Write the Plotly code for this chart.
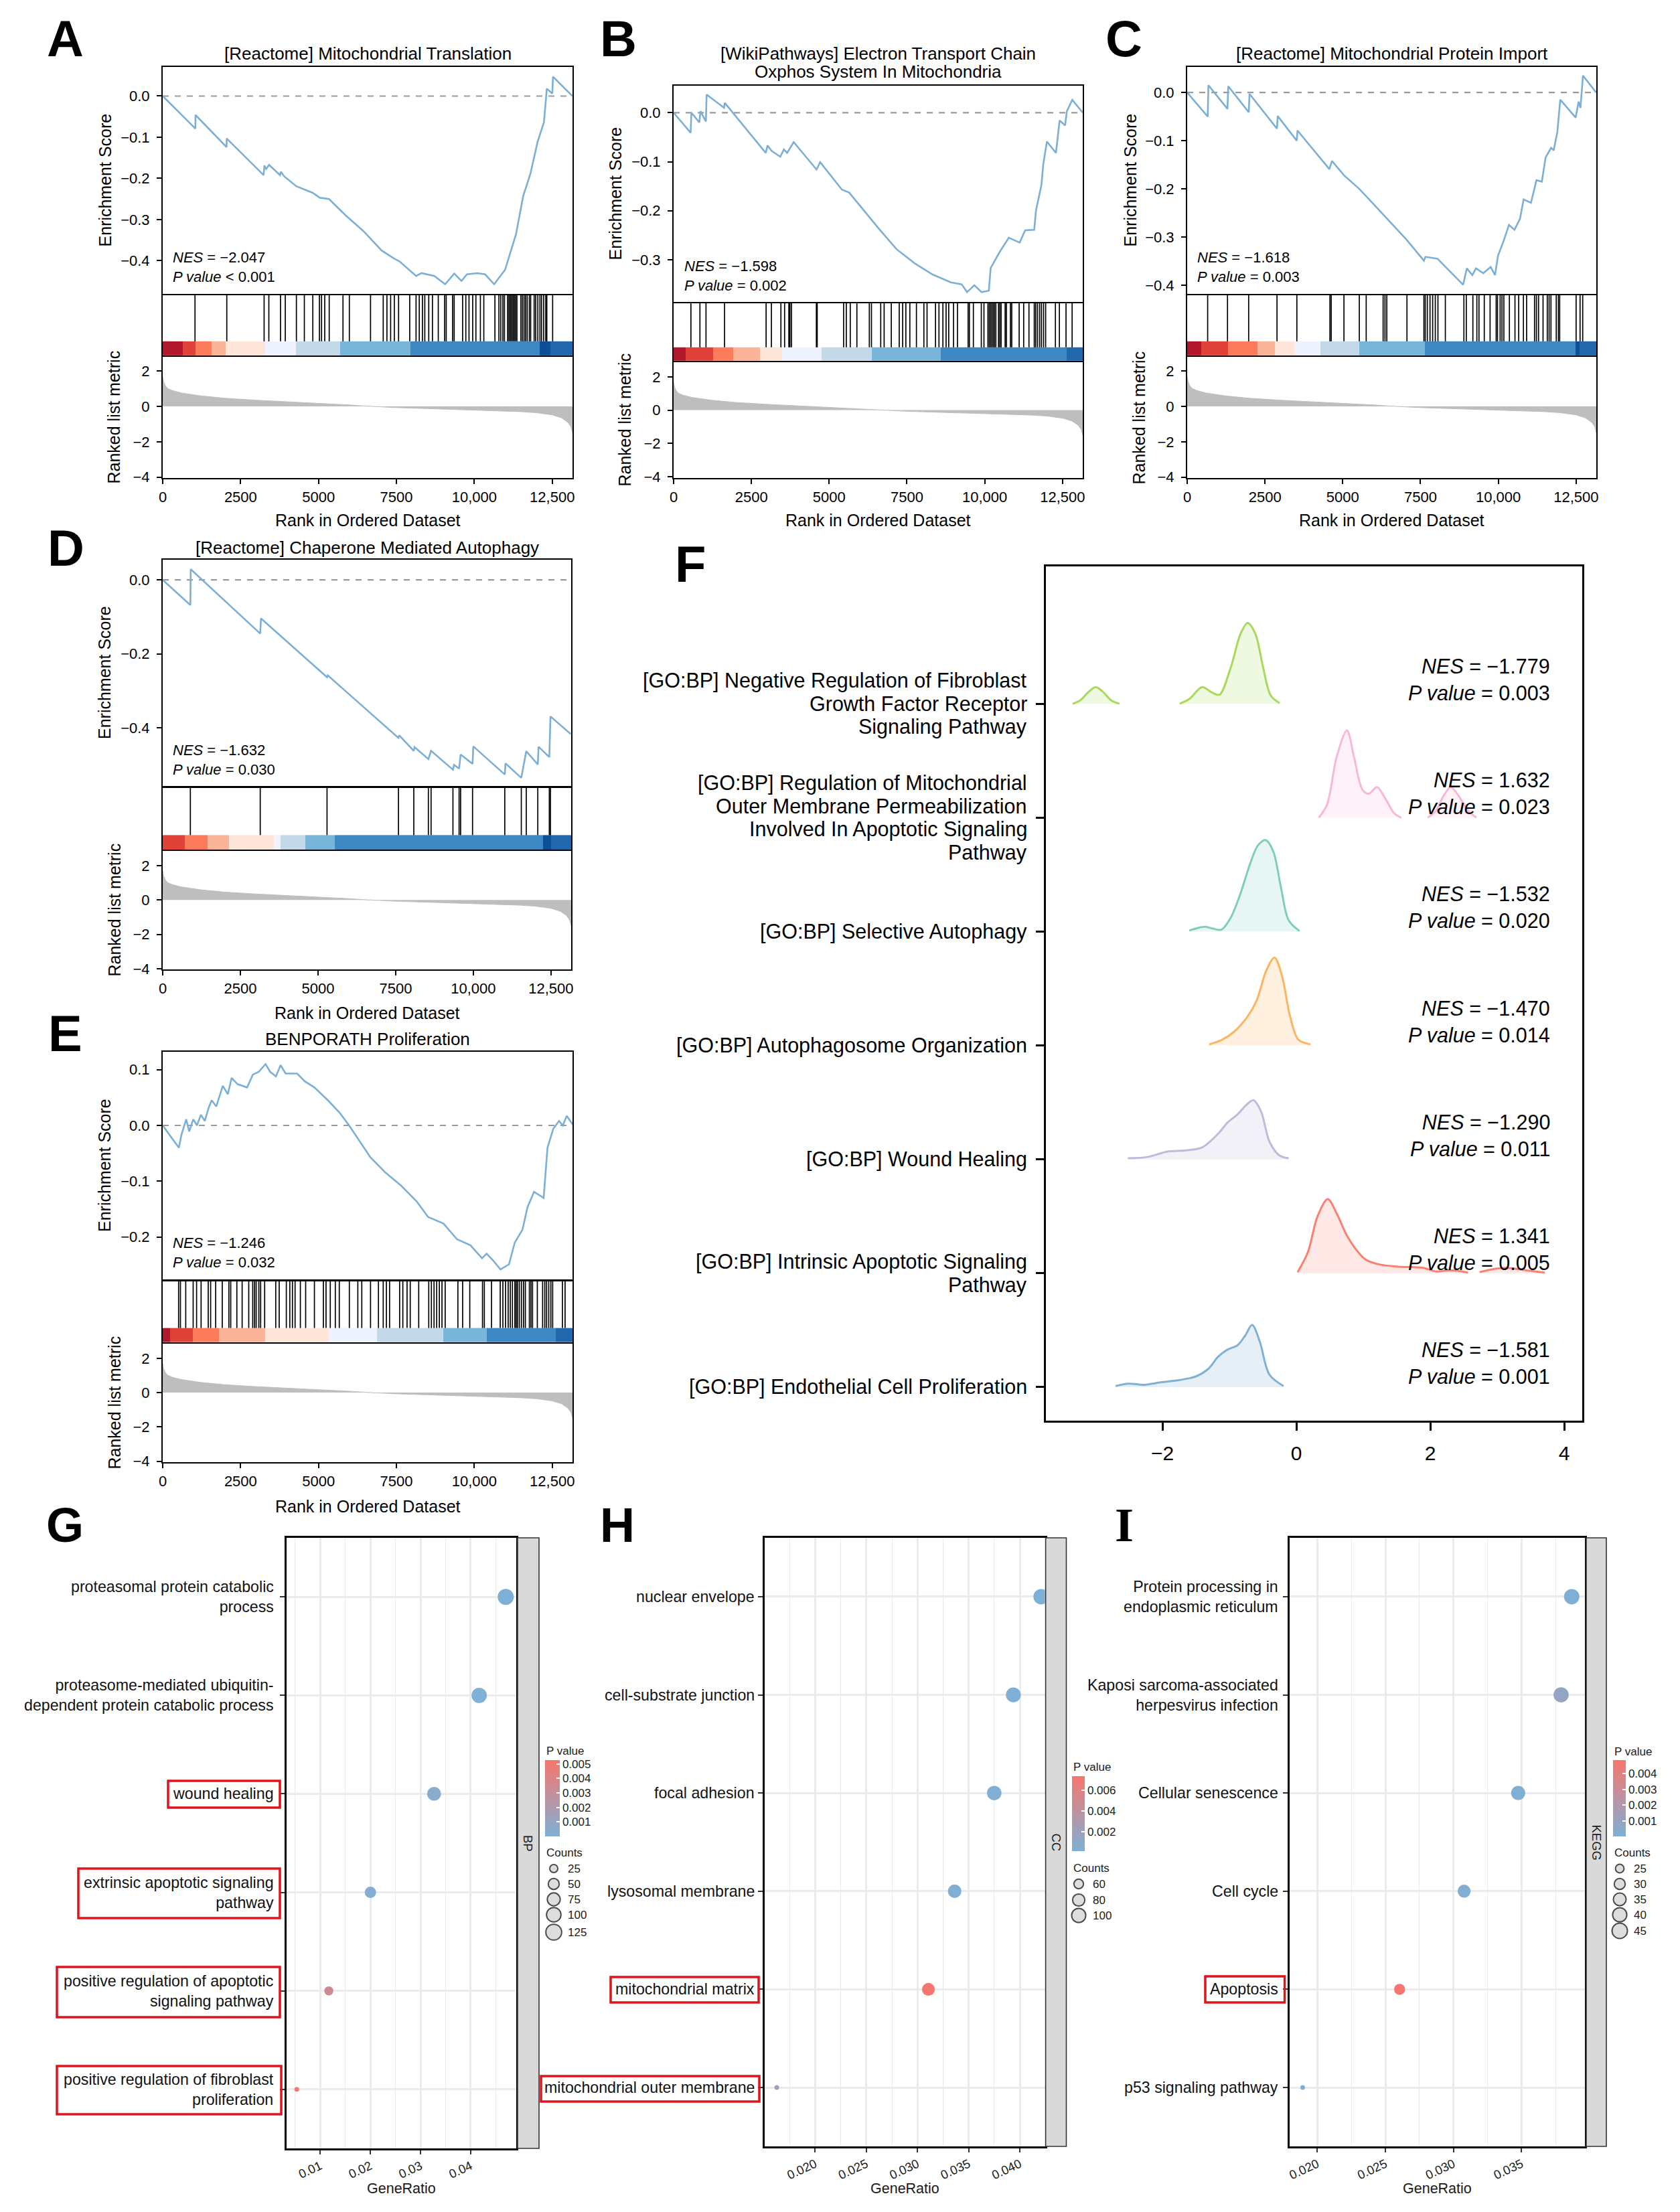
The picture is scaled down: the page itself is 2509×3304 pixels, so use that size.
import plotly.graph_objects as go
import numpy as np

W, H = 2509, 3304
OFF = 7  # global registration shift (px)
N_GENES = 13150
FONT = "Liberation Sans, Arial, Helvetica, sans-serif"

# ---------------------------------------------------------------- data ----
# shared ranked list metric (rank, metric)
RANK_X = [0, 30, 80, 150, 300, 600, 1200, 2000, 3000, 4000, 5000, 6000, 6500,
          7500, 8500, 9500, 10500, 11500, 12000, 12500, 12800, 13000, 13100, 13150]
RANK_Y = [1.7, 1.4, 1.18, 1.02, 0.9, 0.76, 0.6, 0.46, 0.35, 0.25, 0.17, 0.08, 0.02,
          -0.07, -0.13, -0.18, -0.23, -0.3, -0.36, -0.48, -0.65, -0.9, -1.15, -1.5]

BAND_COLORS = ['#B2182B', '#E0423A', '#FB7B5B', '#FCB499', '#FEE5D9', '#EFF3FF',
               '#C3D9E8', '#78B5D9', '#3D87C2', '#0D4E96', '#2267AC']

# Panel A
A_ES_X = [0, 1049, 1052, 2050, 2053, 3238, 3262, 3320, 3413, 3763, 3790, 3900, 4287,
          4811, 5044, 5336, 5860, 6442, 7025, 7433, 7607, 8132, 8306, 8714, 9064, 9355,
          9588, 9763, 10100, 10345, 10636, 10986, 11335, 11568, 11801, 12034, 12233,
          12326, 12501, 12524, 13150]
A_ES_Y = [0, -0.079, -0.046, -0.124, -0.103, -0.192, -0.169, -0.177, -0.167, -0.192,
          -0.184, -0.195, -0.219, -0.235, -0.247, -0.25, -0.289, -0.328, -0.375, -0.395,
          -0.402, -0.437, -0.43, -0.437, -0.457, -0.431, -0.449, -0.433, -0.43, -0.433,
          -0.457, -0.422, -0.336, -0.243, -0.188, -0.11, -0.064, 0.018, 0.006, 0.047, 0.0]
A_HITS = [1036, 2056, 3254, 3406, 3780, 3933, 4290, 4545, 4817, 5029, 5097, 5199, 5343,
          5785, 5989, 6669, 7076, 7195, 7314, 7433, 7569, 7926, 8130, 8232, 8334, 8410,
          8537, 8656, 8843, 9047, 9098, 9302, 9353, 9625, 9727, 9829, 9948, 10050, 10194,
          10304, 10661, 10789, 10848, 10916, 10967, 11069, 11112, 11155, 11197, 11240,
          11282, 11324, 11367, 11494, 11545, 11596, 11647, 11698, 11766, 11808, 11919,
          11969, 12037, 12105, 12156, 12224, 12292, 12326, 12513]
A_BAND_EDGES = [0, 637, 1045, 1572, 2013, 3288, 4273, 5700, 7943, 12105, 12445, 13150]
A_BAND_IDX = [0, 1, 2, 3, 4, 5, 6, 7, 8, 9, 10]

# Panel B
B_ES_X = [0, 548, 571, 828, 863, 1038, 1061, 1621, 1644, 2962, 3020, 3150, 3428, 3545,
          3650, 3859, 4594, 4711, 5410, 5643, 6576, 7159, 7742, 8325, 8908, 9258, 9433,
          9666, 9899, 10132, 10191, 10482, 10774, 11124, 11299, 11590, 11649, 11824,
          11882, 11999, 12290, 12407, 12582, 12640, 12815, 13150]
B_ES_Y = [0, -0.041, 0.0, -0.02, 0.003, -0.018, 0.037, 0.01, 0.02, -0.082, -0.067,
          -0.078, -0.09, -0.075, -0.082, -0.06, -0.116, -0.101, -0.157, -0.163, -0.235,
          -0.278, -0.307, -0.33, -0.346, -0.35, -0.366, -0.352, -0.366, -0.363, -0.317,
          -0.284, -0.255, -0.265, -0.24, -0.239, -0.199, -0.147, -0.105, -0.059, -0.082,
          -0.016, -0.026, 0.003, 0.026, 0.0]
B_HITS = [556, 846, 1041, 1637, 2973, 3143, 3449, 3568, 3704, 3738, 3789, 4589, 4615,
          5465, 5551, 5678, 5891, 6291, 6359, 6657, 6767, 6997, 7252, 7363, 7465, 7593,
          7805, 8044, 8146, 8418, 8529, 8656, 8758, 8843, 8997, 9124, 9465, 9507, 9635,
          9890, 9975, 10103, 10145, 10188, 10230, 10273, 10315, 10358, 10443, 10486,
          10528, 10656, 10698, 10826, 10869, 11107, 11252, 11422, 11592, 11635, 11694,
          11762, 11822, 11890, 11958, 12272, 12400, 12613, 12809]
B_BAND_EDGES = [0, 378, 1280, 1909, 2786, 3483, 4759, 6376, 8588, 12629, 13150]
B_BAND_IDX = [0, 1, 2, 3, 4, 5, 6, 7, 8, 10]

# Panel C
C_ES_X = [0, 660, 683, 1296, 1319, 1979, 2003, 2886, 2910, 3522, 3546, 4571, 4653, 5042,
          5513, 5749, 7044, 7610, 7657, 8045, 8870, 8988, 9165, 9283, 9518, 9754, 9895,
          9990, 10166, 10343, 10520, 10697, 10814, 11050, 11226, 11400, 11520, 11697,
          11780, 11898, 11992, 12487, 12581, 12640, 12722, 13146]
C_ES_Y = [0, -0.05, 0.015, -0.034, 0.013, -0.041, -0.003, -0.075, -0.049, -0.1, -0.079,
          -0.159, -0.142, -0.172, -0.199, -0.215, -0.305, -0.349, -0.341, -0.345, -0.399,
          -0.365, -0.379, -0.365, -0.375, -0.362, -0.379, -0.339, -0.309, -0.275, -0.285,
          -0.262, -0.222, -0.229, -0.182, -0.185, -0.135, -0.115, -0.12, -0.082, -0.015,
          -0.052, -0.019, -0.032, 0.035, 0.0]
C_HITS = [658, 1296, 1976, 2887, 3525, 4588, 4631, 5039, 5533, 5754, 6298, 6358, 6417,
          7064, 7609, 7651, 7719, 7805, 7890, 7975, 8060, 8298, 8894, 8971, 9183, 9311,
          9379, 9549, 9736, 9932, 9974, 10059, 10119, 10178, 10357, 10536, 10655, 10808,
          10910, 11165, 11225, 11293, 11438, 11574, 11633, 11693, 11863, 11931, 11973,
          12501, 12628, 12713]
C_BAND_EDGES = [0, 445, 1313, 2257, 2827, 3440, 4290, 5533, 7634, 12484, 12611, 13150]
C_BAND_IDX = [0, 1, 2, 3, 4, 5, 6, 7, 8, 9, 10]

# Panel D
D_ES_X = [0, 890, 902, 3139, 3164, 5290, 5315, 7589, 7614, 8083, 8108, 8553, 8640, 9344,
          9380, 9542, 9591, 9975, 10000, 11013, 11037, 11544, 11705, 12076, 12100, 12447,
          12484, 13139]
D_ES_Y = [0, -0.068, 0.029, -0.145, -0.104, -0.263, -0.258, -0.427, -0.42, -0.462,
          -0.452, -0.484, -0.462, -0.513, -0.5, -0.51, -0.472, -0.497, -0.45, -0.526,
          -0.496, -0.535, -0.463, -0.499, -0.451, -0.479, -0.369, -0.417]
D_HITS = [890, 3140, 5290, 7590, 8084, 8553, 8640, 9344, 9542, 9591, 9975, 11013, 11545,
          11705, 12076, 12447, 12484]
D_BAND_EDGES = [0, 705, 1446, 2138, 3572, 3795, 4598, 5550, 12249, 12496, 13150]
D_BAND_IDX = [1, 2, 3, 4, 5, 6, 7, 8, 9, 10]

# Panel E
E_ES_X = [0, 519, 600, 754, 850, 980, 1100, 1224, 1350, 1471, 1570, 1720, 1928, 2090,
          2212, 2400, 2707, 2892, 3080, 3300, 3449, 3634, 3782, 3943, 4314, 4561, 4870,
          5302, 5673, 5982, 6662, 7156, 7651, 8145, 8516, 9010, 9443, 9876, 10246, 10395,
          10600, 10840, 11112, 11297, 11544, 11705, 11915, 12224, 12348, 12533, 12719,
          12840, 12966, 13176]
E_ES_Y = [0, -0.04, -0.017, 0.011, -0.011, 0.011, 0.0, 0.019, 0.008, 0.031, 0.045, 0.034,
          0.071, 0.056, 0.085, 0.074, 0.068, 0.091, 0.096, 0.11, 0.096, 0.088, 0.108,
          0.093, 0.093, 0.079, 0.068, 0.045, 0.023, 0.0, -0.057, -0.085, -0.108, -0.136,
          -0.164, -0.176, -0.204, -0.215, -0.238, -0.23, -0.242, -0.258, -0.249, -0.21,
          -0.187, -0.147, -0.119, -0.13, -0.04, -0.006, 0.008, 0.0, 0.017, 0.0]
E_HITS = [510, 569, 739, 977, 1087, 1232, 1461, 1538, 1699, 1911, 2124, 2183, 2379, 2549,
          2761, 2888, 2948, 2999, 3084, 3143, 3271, 3627, 3738, 3967, 4078, 4163, 4248,
          4417, 4587, 4868, 5156, 5241, 5377, 5539, 5666, 5989, 6261, 6388, 6669, 6923,
          7076, 7178, 7280, 7603, 7705, 7841, 7943, 8215, 8537, 8622, 8707, 8792, 8877,
          8962, 9064, 9472, 9625, 9854, 10262, 10321, 10551, 10831, 10916, 11001, 11086,
          11154, 11222, 11299, 11341, 11383, 11443, 11511, 11579, 11638, 11766, 11817,
          11868, 12021, 12191, 12260, 12318, 12387, 12455, 12514, 12827, 12912]
E_BAND_EDGES = [0, 229, 960, 1801, 3288, 5326, 6881, 9005, 10389, 12615, 13150]
E_BAND_IDX = [0, 1, 2, 3, 4, 5, 6, 7, 8, 10]

# Panel F (ridges: x values and relative density heights)
F_TERMS = [["[GO:BP] Negative Regulation of Fibroblast", "Growth Factor Receptor", "Signaling Pathway"],
           ["[GO:BP] Regulation of Mitochondrial", "Outer Membrane Permeabilization",
            "Involved In Apoptotic Signaling", "Pathway"],
           ["[GO:BP] Selective Autophagy"],
           ["[GO:BP] Autophagosome Organization"],
           ["[GO:BP] Wound Healing"],
           ["[GO:BP] Intrinsic Apoptotic Signaling", "Pathway"],
           ["[GO:BP] Endothelial Cell Proliferation"]]
F_NES = ["−1.779", "1.632", "−1.532", "−1.470", "−1.290", "1.341", "−1.581"]
F_PVAL = ["0.003", "0.023", "0.020", "0.014", "0.011", "0.005", "0.001"]
F_LINE = ['#A8D95B', '#F7B8D8', '#7FCDBB', '#FDB462', '#BEBADA', '#FB8072', '#80B1D3']
F_FILL = ['rgba(168,217,91,0.18)', 'rgba(247,184,216,0.18)', 'rgba(127,205,187,0.18)',
          'rgba(253,180,98,0.2)', 'rgba(190,186,218,0.2)', 'rgba(251,128,114,0.18)',
          'rgba(128,177,211,0.2)']

FIBRO_X = [[-3.340, -3.225, -3.110, -2.995, -2.880, -2.766, -2.641],
           [-1.742, -1.598, -1.407, -1.263, -1.148, -0.976, -0.833, -0.727, -0.612, -0.498, -0.383, -0.249]]
FIBRO_H = [[0, 0.031, 0.10, 0.147, 0.10, 0.031, 0],
           [0, 0.042, 0.147, 0.100, 0.079, 0.325, 0.614, 0.709, 0.614, 0.325, 0.073, 0.005]]
MITO_X = [[0.335, 0.459, 0.603, 0.756, 0.861, 0.986, 1.081, 1.206, 1.340, 1.464, 1.569],
          [1.962, 2.086, 2.201, 2.306, 2.421, 2.565, 2.689]]
MITO_H = [[0, 0.115, 0.535, 0.766, 0.535, 0.247, 0.210, 0.268, 0.157, 0.037, 0],
          [0, 0.063, 0.194, 0.268, 0.194, 0.063, 0]]
SELECT_X = [[-1.598, -1.474, -1.359, -1.244, -1.120, -0.976, -0.833, -0.689, -0.574, -0.459, -0.344, -0.230, -0.115, 0.048]]
SELECT_H = [[0.010, 0.031, 0.042, 0.026, 0.016, 0.126, 0.336, 0.598, 0.756, 0.803, 0.703, 0.388, 0.100, 0.005]]
AUTOPH_X = [[-1.301, -1.120, -0.928, -0.737, -0.593, -0.450, -0.325, -0.211, -0.096, 0.029, 0.211]]
AUTOPH_H = [[0.010, 0.047, 0.121, 0.247, 0.394, 0.656, 0.772, 0.604, 0.262, 0.052, 0.010]]
WOUND_X = [[-2.517, -2.220, -1.933, -1.646, -1.407, -1.167, -1.024, -0.880, -0.756, -0.641, -0.526, -0.402, -0.258, -0.115]]
WOUND_H = [[0.010, 0.021, 0.068, 0.079, 0.105, 0.226, 0.325, 0.394, 0.472, 0.520, 0.420, 0.157, 0.037, 0.010]]
INTRIN_X = [[0.019, 0.172, 0.316, 0.469, 0.603, 0.746, 0.890, 1.033, 1.225, 1.512, 1.895, 2.086, 2.278, 2.421, 2.565],
            [2.737, 2.947, 3.139, 3.426, 3.713]]
INTRIN_H = [[0.010, 0.184, 0.499, 0.651, 0.525, 0.341, 0.210, 0.121, 0.079, 0.058, 0.047, 0.016, 0.026, 0.021, 0.005],
            [0.010, 0.037, 0.047, 0.026, 0.005]]
ENDO_X = [[-2.699, -2.507, -2.268, -2.029, -1.742, -1.502, -1.311, -1.167, -1.024, -0.880, -0.766, -0.660, -0.545, -0.402, -0.191]]
ENDO_H = [[0.010, 0.031, 0.021, 0.042, 0.063, 0.094, 0.163, 0.268, 0.331, 0.367, 0.451, 0.546, 0.399, 0.110, 0.010]]

# Panels G, H, I (dot plots)
G_TERMS = ["proteasomal protein catabolic<br>process",
           "proteasome-mediated ubiquitin-<br>dependent protein catabolic process",
           "wound healing", "extrinsic apoptotic signaling<br>pathway",
           "positive regulation of apoptotic<br>signaling pathway",
           "positive regulation of fibroblast<br>proliferation"]
G_RATIO = [0.0470, 0.0417, 0.0327, 0.0200, 0.0117, 0.0053]
G_COUNT = [130, 115, 91, 55, 32, 15]
G_PVAL = [0.00002, 0.00003, 0.0004, 0.0002, 0.0035, 0.00526]
G_LEG_COUNTS = [25, 50, 75, 100, 125]
G_PTICKS = [0.001, 0.002, 0.003, 0.004, 0.005]

H_TERMS = ["nuclear envelope", "cell-substrate junction", "focal adhesion",
           "lysosomal membrane", "mitochondrial matrix", "mitochondrial outer membrane"]
H_RATIO = [0.04208, 0.03937, 0.0375, 0.03363, 0.03107, 0.01625]
H_COUNT = [116, 109, 104, 93, 86, 45]
H_PVAL = [0.00013, 0.0002, 0.0003, 0.0003, 0.00735, 0.0022]
H_LEG_COUNTS = [60, 80, 100]
H_PTICKS = [0.002, 0.004, 0.006]

I_TERMS = ["Protein processing in<br>endoplasmic reticulum",
           "Kaposi sarcoma-associated<br>herpesvirus infection",
           "Cellular senescence", "Cell cycle", "Apoptosis", "p53 signaling pathway"]
I_RATIO = [0.03868, 0.0379, 0.03475, 0.03078, 0.02604, 0.01892]
I_COUNT = [45, 44, 40, 36, 30, 22]
I_PVAL = [0.00002, 0.0009, 0.0001, 0.0002, 0.00487, 0.0002]
I_LEG_COUNTS = [25, 30, 35, 40, 45]
I_PTICKS = [0.001, 0.002, 0.003, 0.004]

# ------------------------------------------------------------- helpers ----
def px(x):
    return (x - OFF) / W


def py(y):
    return 1 - (y - OFF) / H


def ref(k):
    return ('x' if k == 1 else f'x{k}'), ('y' if k == 1 else f'y{k}')


def axn(k):
    return ('xaxis' if k == 1 else f'xaxis{k}'), ('yaxis' if k == 1 else f'yaxis{k}')


def mfmt(v, d=1):
    s = f"{v:.{d}f}"
    if s.startswith('-'):
        s = '−' + s[1:]
    return s


def ann(text, x, y, size, xanchor='center', yanchor='middle', angle=0, align='center',
        family=FONT, color='black', xref='paper', yref='paper', raw=False):
    return dict(text=text, x=x if raw else px(x), y=y if (raw or yref != 'paper') else py(y),
                xref=xref, yref=yref, showarrow=False,
                font=dict(size=size, family=family, color=color),
                xanchor=xanchor, yanchor=yanchor, textangle=angle, align=align)


fig = go.Figure()
layout = {}
annotations = []
shapes = []

ES_COLOR = '#7BAFD6'
BAND_FRAC = 0.235
BOX = dict(showline=True, linecolor='black', linewidth=2, mirror=True, showgrid=False,
           zeroline=False)

GSEA = [
    dict(es_x=A_ES_X, es_y=A_ES_Y, hits=A_HITS, edges=A_BAND_EDGES, idx=A_BAND_IDX,
         left=242, right=854, es=(99, 438), hit=(440, 530), rk=(532, 713),
         es_range=[-0.4805, 0.0707], es_ticks=[0, -0.1, -0.2, -0.3, -0.4], rk_range=[-4.05, 2.8],
         title=[("[Reactome] Mitochondrial Translation", 79)], nes=("−2.047", "< 0.001"),
         nes_pos=(255, 398), eslab_x=155, rklab_x=168, xlab_y=776, letter=("A", 96, 57)),
    dict(es_x=B_ES_X, es_y=B_ES_Y, hits=B_HITS, edges=B_BAND_EDGES, idx=B_BAND_IDX,
         left=1005, right=1616, es=(127, 450), hit=(452, 538), rk=(540, 713),
         es_range=[-0.386, 0.055], es_ticks=[0, -0.1, -0.2, -0.3], rk_range=[-4.08, 2.88],
         title=[("[WikiPathways] Electron Transport Chain", 79), ("Oxphos System In Mitochondria", 106)],
         nes=("−1.598", "= 0.002"), nes_pos=(1019, 411), eslab_x=918, rklab_x=931, xlab_y=776,
         letter=("B", 922, 57)),
    dict(es_x=C_ES_X, es_y=C_ES_Y, hits=C_HITS, edges=C_BAND_EDGES, idx=C_BAND_IDX,
         left=1772, right=2383, es=(99, 438), hit=(440, 530), rk=(532, 713),
         es_range=[-0.418, 0.053], es_ticks=[0, -0.1, -0.2, -0.3, -0.4], rk_range=[-4.05, 2.8],
         title=[("[Reactome] Mitochondrial Protein Import", 79)], nes=("−1.618", "= 0.003"),
         nes_pos=(1785, 398), eslab_x=1686, rklab_x=1699, xlab_y=776, letter=("C", 1677, 57)),
    dict(es_x=D_ES_X, es_y=D_ES_Y, hits=D_HITS, edges=D_BAND_EDGES, idx=D_BAND_IDX,
         left=242, right=852, es=(835, 1173), hit=(1176, 1268), rk=(1270, 1447),
         es_range=[-0.557, 0.0547], es_ticks=[0, -0.2, -0.4], rk_range=[-4.03, 2.85],
         title=[("[Reactome] Chaperone Mediated Autophagy", 817)], nes=("−1.632", "= 0.030"),
         nes_pos=(255, 1134), eslab_x=155, rklab_x=169, xlab_y=1512, letter=("D", 97, 818)),
    dict(es_x=E_ES_X, es_y=E_ES_Y, hits=E_HITS, edges=E_BAND_EDGES, idx=E_BAND_IDX,
         left=242, right=854, es=(1570, 1910), hit=(1913, 2004), rk=(2006, 2183),
         es_range=[-0.276, 0.132], es_ticks=[0.1, 0, -0.1, -0.2], rk_range=[-4.05, 2.85],
         title=[("BENPORATH Proliferation", 1551)], nes=("−1.246", "= 0.032"),
         nes_pos=(255, 1870), eslab_x=155, rklab_x=169, xlab_y=2249, letter=("E", 96, 1542)),
]

band_scale = [[i / (len(BAND_COLORS) - 1), c] for i, c in enumerate(BAND_COLORS)]

for p, g in enumerate(GSEA):
    k1, k2, k3 = 3 * p + 1, 3 * p + 2, 3 * p + 3
    xd = [px(g['left']), px(g['right'])]
    # enrichment score line
    xa, ya = ref(k1)
    fig.add_trace(go.Scatter(x=g['es_x'], y=g['es_y'], mode='lines',
                             line=dict(color=ES_COLOR, width=2.6), xaxis=xa, yaxis=ya,
                             hoverinfo='skip', showlegend=False))
    shapes.append(dict(type='line', xref=xa + ' domain', x0=0, x1=1, yref=ya, y0=0, y1=0,
                       line=dict(color='#9A9A9A', width=2.2, dash='dash'), layer='below'))
    xn, yn = axn(k1)
    layout[xn] = dict(domain=xd, range=[0, N_GENES], anchor=ya, ticks='', showticklabels=False, **BOX)
    layout[yn] = dict(domain=[py(g['es'][1]), py(g['es'][0])], range=g['es_range'], anchor=xa,
                      tickvals=g['es_ticks'], ticktext=[mfmt(v) for v in g['es_ticks']],
                      ticks='outside', ticklen=7, tickwidth=2, tickcolor='black',
                      ticklabelstandoff=6,
                      tickfont=dict(size=22, family=FONT, color='black'), **BOX)
    # hits + colour band
    xa2, ya2 = ref(k2)
    hx, hy = [], []
    for h in g['hits']:
        hx += [h, h, None]
        hy += [BAND_FRAC, 1, None]
    fig.add_trace(go.Heatmap(x=g['edges'], y=[0, BAND_FRAC], z=[g['idx']], zmin=0,
                             zmax=len(BAND_COLORS) - 1, colorscale=band_scale, showscale=False,
                             hoverinfo='skip', xaxis=xa2, yaxis=ya2))
    fig.add_trace(go.Scatter(x=hx, y=hy, mode='lines', line=dict(color='black', width=1.7),
                             xaxis=xa2, yaxis=ya2, hoverinfo='skip', showlegend=False))
    xn, yn = axn(k2)
    layout[xn] = dict(domain=xd, range=[0, N_GENES], anchor=ya2, ticks='', showticklabels=False, **BOX)
    layout[yn] = dict(domain=[py(g['hit'][1]), py(g['hit'][0])], range=[0, 1], anchor=xa2,
                      ticks='', showticklabels=False, **BOX)
    # ranked list metric
    xa3, ya3 = ref(k3)
    fig.add_trace(go.Scatter(x=RANK_X, y=RANK_Y, mode='lines', fill='tozeroy',
                             fillcolor='#BEBEBE', line=dict(color='#BEBEBE', width=1),
                             xaxis=xa3, yaxis=ya3, hoverinfo='skip', showlegend=False))
    xn, yn = axn(k3)
    layout[xn] = dict(domain=xd, range=[0, N_GENES], anchor=ya3,
                      tickvals=[0, 2500, 5000, 7500, 10000, 12500],
                      ticktext=['0', '2500', '5000', '7500', '10,000', '12,500'],
                      ticks='outside', ticklen=7, tickwidth=2, tickcolor='black',
                      ticklabelstandoff=1,
                      tickfont=dict(size=22, family=FONT, color='black'), **BOX)
    layout[yn] = dict(domain=[py(g['rk'][1]), py(g['rk'][0])], range=g['rk_range'], anchor=xa3,
                      tickvals=[2, 0, -2, -4], ticktext=['2', '0', '−2', '−4'],
                      ticks='outside', ticklen=7, tickwidth=2, tickcolor='black',
                      ticklabelstandoff=6,
                      tickfont=dict(size=22, family=FONT, color='black'), **BOX)
    # texts
    cx = (g['left'] + g['right']) / 2
    for t, ty in g['title']:
        annotations.append(ann(t, cx, ty, 26))
    annotations.append(ann(f"<i>NES</i> = {g['nes'][0]}<br><i>P value</i> {g['nes'][1]}",
                           g['nes_pos'][0], g['nes_pos'][1], 22, xanchor='left', align='left'))
    annotations.append(ann("Enrichment Score", g['eslab_x'], (g['es'][0] + g['es'][1]) / 2, 25, angle=-90))
    annotations.append(ann("Ranked list metric", g['rklab_x'], (g['rk'][0] + g['rk'][1]) / 2, 25, angle=-90))
    annotations.append(ann("Rank in Ordered Dataset", cx, g['xlab_y'], 25))
    L, lx, ly = g['letter']
    annotations.append(ann(f"<b>{L}</b>", lx, ly, 76))

# ---------------------------------------------------------------- F -------
KF = 16
xaf, yaf = ref(KF)
F_UNIT = (2121 - 845) / 7.5       # px per category step
F_LINE_STEP = 34.5 / F_UNIT        # label line spacing in data units
RIDGES = [(FIBRO_X, FIBRO_H), (MITO_X, MITO_H), (SELECT_X, SELECT_H), (AUTOPH_X, AUTOPH_H),
          (WOUND_X, WOUND_H), (INTRIN_X, INTRIN_H), (ENDO_X, ENDO_H)]
n_f = len(F_TERMS)
for i, (rx, rh) in enumerate(RIDGES):
    base = n_f - i
    for sx, sh in zip(rx, rh):
        fig.add_trace(go.Scatter(x=sx, y=[base] * len(sx), mode='lines', line=dict(width=0),
                                 xaxis=xaf, yaxis=yaf, hoverinfo='skip', showlegend=False))
        fig.add_trace(go.Scatter(x=sx, y=[base + v for v in sh], mode='lines', fill='tonexty',
                                 fillcolor=F_FILL[i],
                                 line=dict(color=F_LINE[i], width=3, shape='spline', smoothing=0.9),
                                 xaxis=xaf, yaxis=yaf, hoverinfo='skip', showlegend=False))
    lines = F_TERMS[i]
    nl = len(lines)
    for j, t in enumerate(lines):
        yl = base + ((nl - 1) / 2 - j) * F_LINE_STEP
        annotations.append(ann(t, px(1535), yl, 30.5, xanchor='right', align='right',
                               yref=yaf, raw=True))
    annotations.append(ann(f"<i>NES</i> = {F_NES[i]}<br><i>P value</i> = {F_PVAL[i]}",
                           px(2316), base + 36 / F_UNIT, 30.5, xanchor='right', align='right',
                           yref=yaf, raw=True))
xn, yn = axn(KF)
layout[xn] = dict(domain=[px(1561), px(2362)], range=[-3.74, 4.27], anchor=yaf,
                  tickvals=[-2, 0, 2, 4], ticktext=['−2', '0', '2', '4'], ticks='outside',
                  ticklen=12, tickwidth=3, tickcolor='black', ticklabelstandoff=8,
                  tickfont=dict(size=30, family=FONT, color='black'),
                  showline=True, linecolor='black', linewidth=3, mirror=True,
                  showgrid=False, zeroline=False)
layout[yn] = dict(domain=[py(2121), py(845)], range=[0.706, 8.206], anchor=xaf,
                  tickvals=list(range(1, n_f + 1)), ticks='outside', ticklen=12, tickwidth=3,
                  tickcolor='black', showticklabels=False,
                  showline=True, linecolor='black', linewidth=3, mirror=True,
                  showgrid=False, zeroline=False)
annotations.append(ann("<b>F</b>", 1030, 841, 76))

# ------------------------------------------------------------ G H I -------
KL = 20  # overlay axis in pixel units, used for legend keys
xal, yal = ref(KL)
PSCALE = [[0, '#7EB0D6'], [1, '#F8766D']]

DOTS = [
    dict(k=17, terms=G_TERMS, ratio=G_RATIO, count=G_COUNT, pval=G_PVAL, legc=G_LEG_COUNTS,
         pticks=G_PTICKS, cax='coloraxis', crange=[0.0, 0.00526], smin=7, smax=24,
         left=427, right=770, top=2296, bottom=3208, xrange=[0.00327, 0.0491],
         xt=[0.01, 0.02, 0.03, 0.04], xtt=['0.01', '0.02', '0.03', '0.04'],
         minor=[0.005, 0.015, 0.025, 0.035, 0.045], strip=(772, 804, 'BP'), lab_r=410,
         cb=(813, 2628, 2742, 22), ptitle=(813, 2614), ctitle=(813, 2766),
         legx=826, legy=[2790, 2813, 2836, 2859, 2885], legtx=845, letter=("G", 96, 2277),
         boxes=[(250, 417, 2659, 2699), (116, 417, 2790, 2864), (84, 417, 2937, 3012),
                (84, 419, 3085, 3157)]),
    dict(k=18, terms=H_TERMS, ratio=H_RATIO, count=H_COUNT, pval=H_PVAL, legc=H_LEG_COUNTS,
         pticks=H_PTICKS, cax='coloraxis2', crange=[0.00013, 0.00735], smin=7, smax=23,
         left=1140.6, right=1559.5, top=2296, bottom=3205, xrange=[0.01504, 0.04245],
         xt=[0.020, 0.025, 0.030, 0.035, 0.040], xtt=['0.020', '0.025', '0.030', '0.035', '0.040'],
         minor=[0.0175, 0.0225, 0.0275, 0.0325, 0.0375, 0.0425], strip=(1560.6, 1591.5, 'CC'),
         lab_r=1127.6, cb=(1600, 2652, 2764, 19), ptitle=(1600, 2638), ctitle=(1600, 2789),
         legx=1610, legy=[2813, 2837, 2860], legtx=1629, letter=("H", 921, 2277),
         boxes=[(911, 1132, 2952, 2990), (807, 1133, 3100, 3138)]),
    dict(k=19, terms=I_TERMS, ratio=I_RATIO, count=I_COUNT, pval=I_PVAL, legc=I_LEG_COUNTS,
         pticks=I_PTICKS, cax='coloraxis3', crange=[0.00002, 0.00487], smin=7, smax=23,
         left=1924.5, right=2366, top=2296, bottom=3205, xrange=[0.01794, 0.03965],
         xt=[0.020, 0.025, 0.030, 0.035], xtt=['0.020', '0.025', '0.030', '0.035'],
         minor=[0.0225, 0.0275, 0.0325, 0.0375], strip=(2368, 2398, 'KEGG'), lab_r=1910,
         cb=(2408, 2628, 2742, 19), ptitle=(2408, 2615), ctitle=(2408, 2766),
         legx=2418, legy=[2790, 2813, 2836, 2859, 2883], legtx=2437, letter=("I", 1678, 2277),
         boxes=[(1799, 1917.6, 2951, 2990)]),
]


def size_map(c, cmin, cmax, smin, smax):
    return smin + (smax - smin) * np.sqrt(max(c - cmin, 0) / (cmax - cmin))


for d in DOTS:
    k = d['k']
    xa, ya = ref(k)
    n = len(d['terms'])
    ypos = [n - i for i in range(n)]
    cmin, cmax = min(d['count']), max(d['count'])
    sizes = [size_map(c, cmin, cmax, d['smin'], d['smax']) for c in d['count']]
    fig.add_trace(go.Scatter(x=d['ratio'], y=ypos, mode='markers',
                             marker=dict(size=sizes, color=d['pval'], coloraxis=d['cax'],
                                         line=dict(width=0), opacity=1),
                             xaxis=xa, yaxis=ya, hoverinfo='skip', showlegend=False))
    xn, yn = axn(k)
    layout[xn] = dict(domain=[px(d['left']), px(d['right'])], range=d['xrange'], anchor=ya,
                      tickvals=d['xt'], ticktext=d['xtt'], tickangle=-25, ticks='outside',
                      ticklen=6, tickwidth=2, tickcolor='#333333', ticklabelstandoff=0,
                      tickfont=dict(size=18.5, family=FONT, color='#1A1A1A'),
                      showgrid=True, gridcolor='#EBEBEB', gridwidth=2.6,
                      minor=dict(tickvals=d['minor'], showgrid=True, gridcolor='#EBEBEB',
                                 gridwidth=1.4, ticks=''),
                      showline=True, linecolor='black', linewidth=2.6, mirror=True, zeroline=False)
    layout[yn] = dict(domain=[py(d['bottom']), py(d['top'])], range=[0.4, n + 0.6], anchor=xa,
                      tickvals=ypos, ticks='outside', ticklen=7, tickwidth=2, tickcolor='#333333',
                      showticklabels=False, showgrid=True, gridcolor='#EBEBEB', gridwidth=2.6,
                      showline=True, linecolor='black', linewidth=2.6, mirror=True, zeroline=False)
    for t, yv in zip(d['terms'], ypos):
        annotations.append(ann(t, px(d['lab_r']), yv, 23.2, xanchor='right', align='right',
                               yref=ya, raw=True, color='#111111'))
    # strip
    s0, s1, stxt = d['strip']
    shapes.append(dict(type='rect', xref='paper', yref='paper', x0=px(s0), x1=px(s1),
                       y0=py(d['bottom']), y1=py(d['top']), fillcolor='#D9D9D9',
                       line=dict(color='#333333', width=1.6)))
    annotations.append(ann(stxt, (s0 + s1) / 2, (d['top'] + d['bottom']) / 2, 18.5, angle=90,
                           color='#1A1A1A'))
    annotations.append(ann("GeneRatio", (d['left'] + d['right']) / 2, 3268, 21.5, color='#1A1A1A'))
    # red highlight boxes
    for (bx0, bx1, by0, by1) in d['boxes']:
        shapes.append(dict(type='rect', xref='paper', yref='paper', x0=px(bx0), x1=px(bx1),
                           y0=py(by1), y1=py(by0), line=dict(color='#E0151B', width=3.5)))
    # P value colour bar
    cbx, cbt, cbb, cbw = d['cb']
    layout[d['cax']] = dict(colorscale=PSCALE, cmin=d['crange'][0], cmax=d['crange'][1],
                            colorbar=dict(x=px(cbx), xanchor='left', y=py(cbt), yanchor='top',
                                          len=cbb - cbt, lenmode='pixels', thickness=cbw,
                                          thicknessmode='pixels', outlinewidth=0, xpad=0, ypad=0,
                                          ticks='inside', ticklen=5, tickcolor='white', tickwidth=1.5,
                                          tickvals=d['pticks'], ticktext=[f"{v:.3f}" for v in d['pticks']],
                                          tickfont=dict(size=17, family=FONT, color='#1A1A1A'),
                                          title=dict(text='')))
    annotations.append(ann("P value", d['ptitle'][0], d['ptitle'][1], 17, xanchor='left', color='#1A1A1A'))
    annotations.append(ann("Counts", d['ctitle'][0], d['ctitle'][1], 17, xanchor='left', color='#1A1A1A'))
    lsz = [size_map(c, cmin, cmax, d['smin'], d['smax']) for c in d['legc']]
    fig.add_trace(go.Scatter(x=[d['legx']] * len(d['legc']), y=d['legy'], mode='markers',
                             marker=dict(size=lsz, color='#D0D0D0', line=dict(color='black', width=2)),
                             xaxis=xal, yaxis=yal, hoverinfo='skip', showlegend=False))
    for c, yv in zip(d['legc'], d['legy']):
        annotations.append(ann(str(c), d['legtx'], yv, 17, xanchor='left', color='#1A1A1A'))
    L, lx, ly = d['letter']
    fam = "Liberation Serif, Times New Roman, serif" if L == "I" else FONT
    annotations.append(ann(f"<b>{L}</b>", lx, ly, 72, family=fam))

xn, yn = axn(KL)
layout[xn] = dict(domain=[0, 1], range=[OFF, W + OFF], anchor=yal, visible=False, fixedrange=True)
layout[yn] = dict(domain=[0, 1], range=[H + OFF, OFF], anchor=xal, visible=False, fixedrange=True)

fig.update_layout(**layout)
fig.update_layout(width=W, height=H, autosize=False, margin=dict(l=0, r=0, t=0, b=0),
                  paper_bgcolor='white', plot_bgcolor='rgba(0,0,0,0)', template='none',
                  showlegend=False, annotations=annotations, shapes=shapes,
                  font=dict(family=FONT, color='black'))
fig.write_html("out.html")
